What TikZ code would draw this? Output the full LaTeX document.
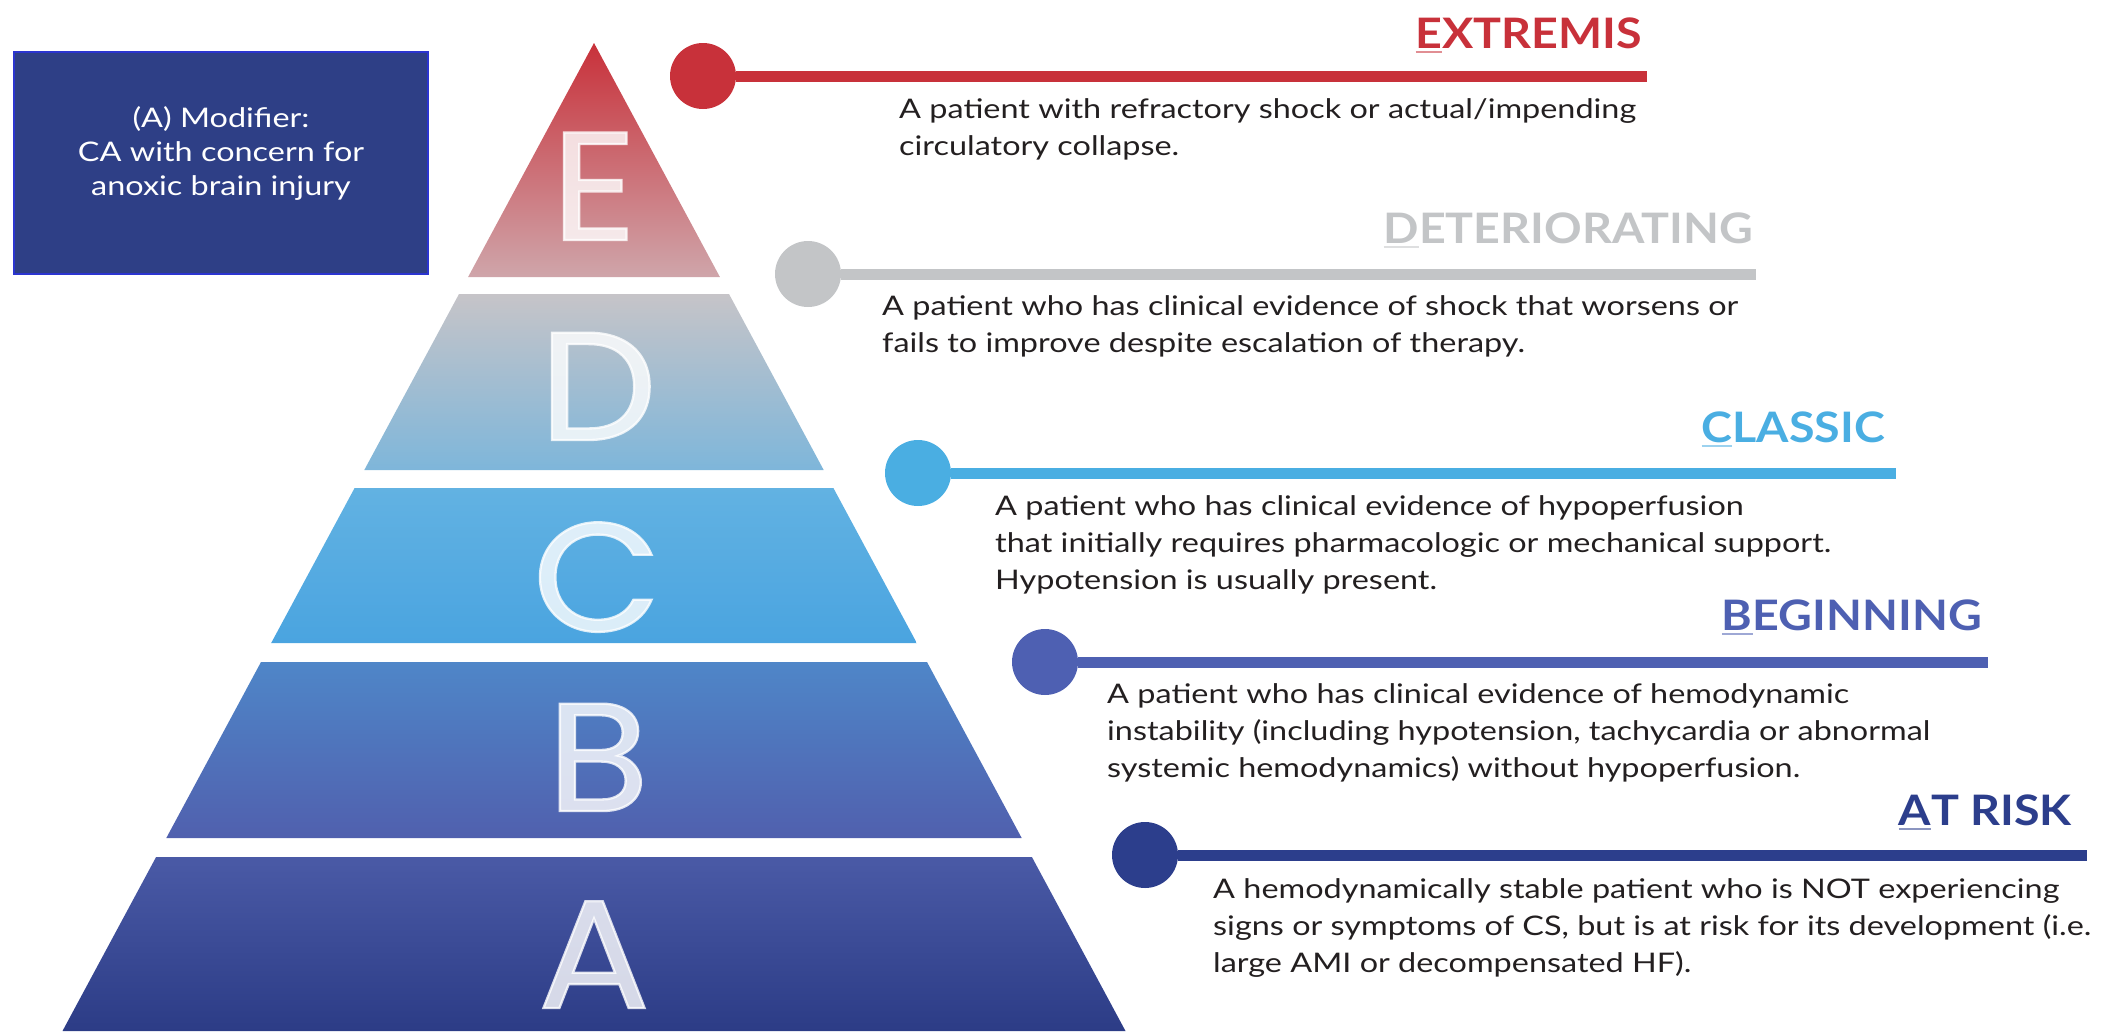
\documentclass[tikz,border=0pt]{standalone}
\usepackage{fontspec}
\setmainfont{Lato}
\newfontfamily\bodyfont[FakeStretch=1.2]{Lato}
\newfontfamily\headfont[FakeStretch=1.11]{Lato}
\newfontfamily\bigfont[FakeBold=1.5,FakeStretch=1.08]{Poppins}
\definecolor{exred}{HTML}{C8313A}
\definecolor{degrey}{HTML}{C3C5C7}
\definecolor{clblue}{HTML}{4AAEE2}
\definecolor{bgblue}{HTML}{4E60B2}
\definecolor{arnavy}{HTML}{2C3E8C}
\definecolor{boxfill}{HTML}{2E3F86}
\definecolor{boxedge}{HTML}{2B35D0}
\definecolor{bodytext}{HTML}{231F20}
\newcommand\firstul[1]{\setbox0\hbox{#1}\rlap{\textcolor{.!55!white}{\rule[-5pt]{\wd0}{2.5pt}}}\box0}
\begin{document}
\begin{tikzpicture}[x=1pt,y=-1pt,
  dot/.style={circle, fill=#1, minimum size=66pt, inner sep=0pt},
  bar/.style={draw=#1, line width=11pt},
  head/.style={anchor=base east, font=\headfont\bfseries\fontsize{42}{42}\selectfont, text=#1, inner sep=0pt},
  desc/.style={anchor=base west, align=left, font=\bodyfont\fontsize{27}{37}\selectfont, text=bodytext, inner sep=0pt},
  letter/.style={font=\bigfont\fontsize{154}{154}\selectfont, text=white, text opacity=0.8, inner sep=0pt, text height=108pt, text depth=0pt}]
\useasboundingbox (0,0) rectangle (2107,1031);

% pyramid tiers
\shade[top color=exred, bottom color={rgb,255:red,207;green,165;blue,170}]
  (594,43) -- (719.9,277) -- (468.1,277) -- cycle;
\shade[top color={rgb,255:red,198;green,196;blue,200}, bottom color={rgb,255:red,126;green,182;blue,218}]
  (459,294) -- (729,294) -- (823.7,470) -- (364.3,470) -- cycle;
\shade[top color={rgb,255:red,98;green,178;blue,226}, bottom color={rgb,255:red,74;green,164;blue,224}]
  (354.6,488) -- (833.4,488) -- (916.8,643) -- (271.2,643) -- cycle;
\shade[top color={rgb,255:red,79;green,134;blue,200}, bottom color={rgb,255:red,80;green,96;blue,174}]
  (261,662) -- (927,662) -- (1021.7,838) -- (166.3,838) -- cycle;
\shade[top color={rgb,255:red,74;green,90;blue,166}, bottom color={rgb,255:red,44;green,60;blue,134}]
  (156.1,857) -- (1031.9,857) -- (1125.5,1031) -- (62.5,1031) -- cycle;

% letters
\node[letter] (lE) at (594,186) {E};
\node[letter] (lD) at (598,386) {D};
\node[letter] (lC) at (597,577) {C};
\node[letter] (lB) at (598,757) {B};
\node[letter] (lA) at (594,954) {A};

% modifier box
\node[draw=boxedge, fill=boxfill, line width=2.5pt, minimum width=414pt, minimum height=222pt, inner sep=0pt] (mod) at (221,163) {};
\node[anchor=base, align=center, text=white, font=\bodyfont\fontsize{27}{34}\selectfont, inner sep=0pt] (modtxt) at (221,195)
  {(A) Modifier:\\CA with concern for\\anoxic brain injury};

% E
\node[dot=exred] (cE) at (703,76) {};
\coordinate (eE) at (1647,76);
\draw[bar=exred] (cE) -- (eE);
\node[head=exred] (hE) at (1642,48) {\firstul{E}XTREMIS};
\node[desc] (dE) at (899,155) {A patient with refractory shock or actual/impending\\circulatory collapse.};

% D
\node[dot=degrey] (cD) at (808,274) {};
\coordinate (eD) at (1756,274);
\draw[bar=degrey] (cD) -- (eD);
\node[head=degrey] (hD) at (1753,243) {\firstul{D}ETERIORATING};
\node[desc] (dD) at (882,352) {A patient who has clinical evidence of shock that worsens or\\fails to improve despite escalation of therapy.};

% C
\node[dot=clblue] (cC) at (918,473) {};
\coordinate (eC) at (1896,473);
\draw[bar=clblue] (cC) -- (eC);
\node[head=clblue] (hC) at (1885,442) {\firstul{C}LASSIC};
\node[desc] (dC) at (995,589) {A patient who has clinical evidence of hypoperfusion\\that initially requires pharmacologic or mechanical support.\\Hypotension is usually present.};

% B
\node[dot=bgblue] (cB) at (1045,662) {};
\coordinate (eB) at (1988,662);
\draw[bar=bgblue] (cB) -- (eB);
\node[head=bgblue] (hB) at (1982,630) {\firstul{B}EGINNING};
\node[desc] (dB) at (1107,777) {A patient who has clinical evidence of hemodynamic\\instability (including hypotension, tachycardia or abnormal\\systemic hemodynamics) without hypoperfusion.};

% A
\node[dot=arnavy] (cA) at (1145,855) {};
\coordinate (eA) at (2087,855);
\draw[bar=arnavy] (cA) -- (eA);
\node[head=arnavy] (hA) at (2072,825) {\firstul{A}T RISK};
\node[desc] (dA) at (1213,972) {A hemodynamically stable patient who is NOT experiencing\\signs or symptoms of CS, but is at risk for its development (i.e.\\large AMI or decompensated HF).};
\end{tikzpicture}
\end{document}
